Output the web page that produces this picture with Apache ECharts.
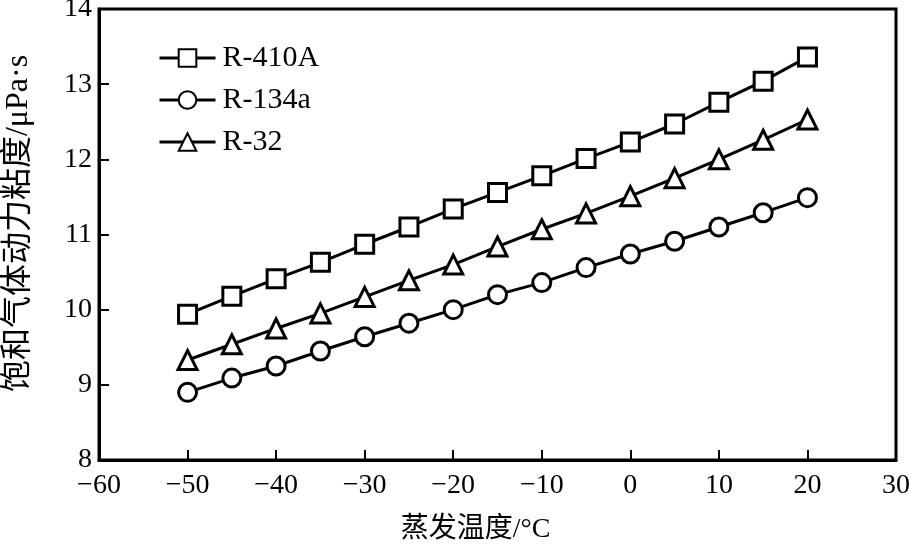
<!DOCTYPE html>
<html>
<head>
<meta charset="utf-8">
<script src="https://cdn.jsdelivr.net/npm/echarts@6/dist/echarts.min.js"></script>
<style>
  html, body { margin: 0; padding: 0; background: #fff; }
  #main { width: 909px; height: 546px; }
</style>
</head>
<body>
<div id="main"></div>
<script>
// 蒸发温度 (°C)
const temps = [-50, -45, -40, -35, -30, -25, -20, -15, -10, -5, 0, 5, 10, 15, 20]
// 饱和气体动力粘度 (μPa·s)
const r410a = [9.94, 10.18, 10.41, 10.63, 10.87, 11.10, 11.34, 11.56, 11.78, 12.01, 12.23, 12.47, 12.76, 13.04, 13.36]
const r134a = [8.90, 9.09, 9.25, 9.45, 9.64, 9.82, 10.00, 10.20, 10.36, 10.56, 10.74, 10.91, 11.10, 11.29, 11.49]
const r32 = [9.33, 9.54, 9.75, 9.95, 10.17, 10.39, 10.60, 10.84, 11.07, 11.28, 11.51, 11.75, 12.00, 12.26, 12.53]

const seriesNames = ['R-410A', 'R-134a', 'R-32']
const seriesSymbols = ['rect', 'circle', 'triangle']

const chartInstance = echarts.init(document.getElementById('main'))
const serif = '"Liberation Serif", "Noto Sans CJK SC", serif'

function pairs (arr) {
  return temps.map((t, i) => [t, arr[i]])
}

const option = {
  animation: false,
  backgroundColor: '#fff',
  textStyle: { fontFamily: serif, color: '#000' },
  grid: {
    left: 99,
    top: 9,
    right: 13,
    bottom: 86,
    outerBoundsMode: 'none',
    show: true,
    borderColor: '#000',
    borderWidth: 3
  },
  legend: {
    left: 153,
    top: 38,
    orient: 'vertical',
    itemWidth: 56,
    itemHeight: 22,
    itemGap: 12,
    lineStyle: { width: 3, color: '#000' },
    textStyle: { fontFamily: serif, fontSize: 30, color: '#000', padding: [0, 0, 0, 2] },
    data: seriesNames
  },
  xAxis: {
    type: 'value',
    min: -60,
    max: 30,
    interval: 10,
    name: '蒸发温度/°C',
    nameLocation: 'middle',
    nameGap: 56,
    nameTextStyle: { fontFamily: serif, fontSize: 28, color: '#000', padding: [0, 44, 0, 0] },
    axisLine: { onZero: false, lineStyle: { color: '#000', width: 3 } },
    axisTick: { inside: true, length: 10, lineStyle: { color: '#000', width: 2 } },
    axisLabel: {
      fontFamily: serif,
      fontSize: 28,
      color: '#000',
      margin: 12,
      formatter: v => (v < 0 ? '\u2212' + Math.abs(v) : String(v))
    },
    splitLine: { show: false }
  },
  yAxis: {
    type: 'value',
    min: 8,
    max: 14,
    interval: 1,
    name: '饱和气体动力粘度/μPa·s',
    nameLocation: 'middle',
    nameGap: 64,
    nameTextStyle: { fontFamily: serif, fontSize: 32, color: '#000', padding: [0, 0, 0, 22] },
    axisLine: { onZero: false, lineStyle: { color: '#000', width: 3 } },
    axisTick: { inside: true, length: 10, lineStyle: { color: '#000', width: 2 } },
    axisLabel: { fontFamily: serif, fontSize: 28, color: '#000', margin: 7 },
    splitLine: { show: false }
  },
  series: [r410a, r134a, r32].map((arr, i) => ({
    name: seriesNames[i],
    type: 'line',
    data: pairs(arr),
    symbol: seriesSymbols[i],
    symbolSize: i === 2 ? 19 : 18,
    showAllSymbol: true,
    lineStyle: { color: '#000', width: 3 },
    itemStyle: { color: '#fff', borderColor: '#000', borderWidth: 3 },
    z: 3 - i
  }))
}
chartInstance.setOption(option)
</script>
</body>
</html>
